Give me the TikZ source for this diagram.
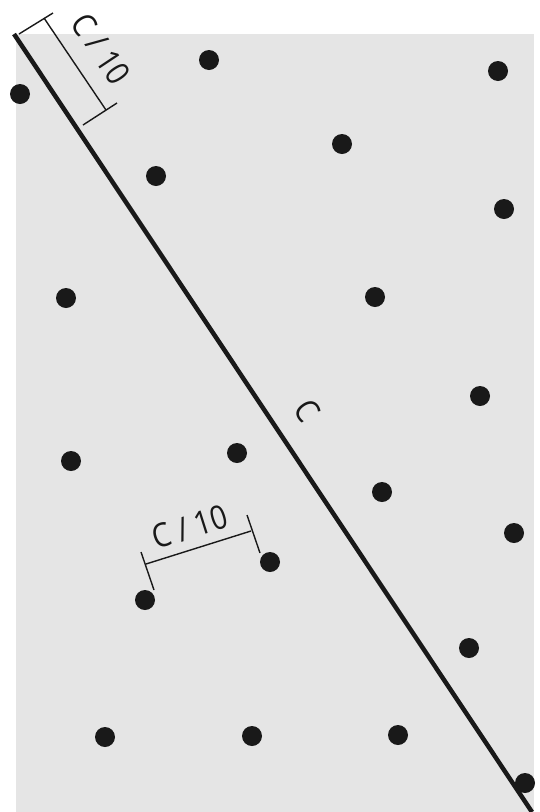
\documentclass[tikz,border=0pt]{standalone}
\usepackage{fontspec}
\setmainfont[FakeStretch=0.88]{Open Sans}
\begin{document}
\begin{tikzpicture}[x=1pt,y=-1pt,
  dot/.style={circle,fill=black!90,inner sep=0pt,minimum size=20pt},
  thin/.style={line width=1.4pt,black!90},
  lbl/.style={font=\fontsize{33}{33}\selectfont,inner sep=0pt,text=black!90}]
\useasboundingbox (0,0) rectangle (539,812);
\fill[black!10] (16,34) rectangle (534,812);
% dots
\foreach \n/\x/\y in {1/20/94,2/209/60,3/498/71,4/342/144,5/156/176,6/504/209,7/66/298,8/375/297,9/480/396,10/71/461,11/237/453,12/382/492,13/514/533,14/270/562,15/145/600,16/469/648,17/105/737,18/252/736,19/398/735,20/525/783}
  \node[dot] (d\n) at (\x,\y) {};
% main line
\coordinate (l1) at (14,34);
\coordinate (l2) at (532,812);
\draw[line width=4.5pt,black!90] (l1) -- (l2);
\node[lbl,rotate=-56.3] (cl) at (307,411) {C};
% top dimension
\coordinate (a1) at (19,34);
\coordinate (a2) at (53,13);
\coordinate (b1) at (83,125);
\coordinate (b2) at (117,103);
\coordinate (m1) at (44,18);
\coordinate (m2) at (106,110);
\draw[thin] (a1) -- (a2);
\draw[thin] (b1) -- (b2);
\draw[thin] (m1) -- (m2);
\node[lbl,rotate=-56.3] (tl) at (101,49) {C / 10};
% bottom dimension
\coordinate (c1) at (141,552);
\coordinate (c2) at (154,590);
\coordinate (e1) at (247,515);
\coordinate (e2) at (260,553);
\coordinate (n1) at (146,564);
\coordinate (n2) at (251,531);
\draw[thin] (c1) -- (c2);
\draw[thin] (e1) -- (e2);
\draw[thin] (n1) -- (n2);
\node[lbl,rotate=17.6] (bl) at (190,527) {C / 10};
\end{tikzpicture}
\end{document}
